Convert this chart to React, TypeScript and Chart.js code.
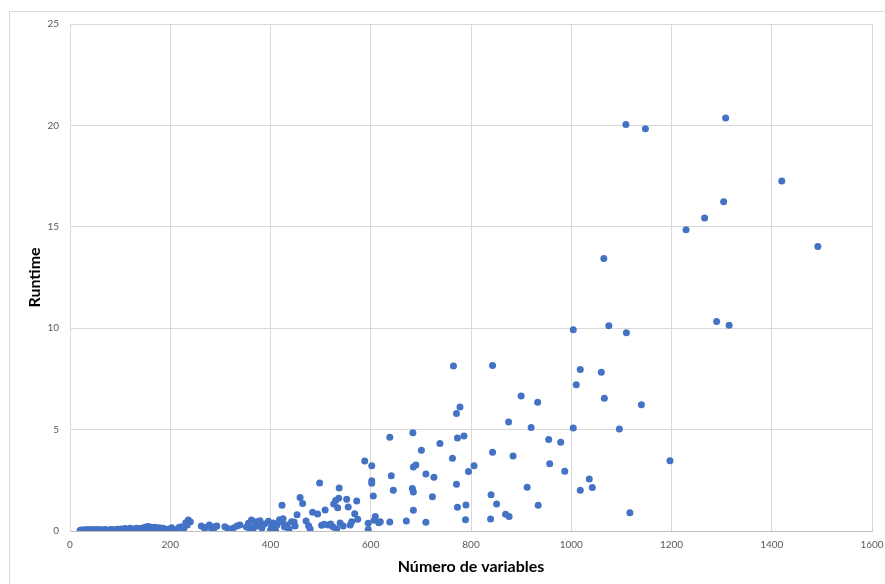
import { useEffect, useRef } from "react";
import { Chart, registerables } from "chart.js";

Chart.register(...registerables);

// [número de variables, runtime]
const runsUpTo200: [number, number][] = [
  [20, 0.03], [22, 0.05], [25, 0.02], [28, 0.06], [30, 0.04], [33, 0.03], [35, 0.07], [38, 0.05],
  [40, 0.02], [42, 0.06], [45, 0.04], [48, 0.08], [50, 0.03], [53, 0.05], [55, 0.07], [58, 0.02],
  [60, 0.05], [63, 0.06], [65, 0.03], [68, 0.04], [70, 0.07], [73, 0.05], [76, 0.03], [80, 0.06],
  [83, 0.08], [86, 0.04], [90, 0.06], [93, 0.05], [96, 0.09], [100, 0.07], [103, 0.1], [106, 0.05],
  [110, 0.12], [112, 0.08], [115, 0.06], [118, 0.1], [120, 0.14], [123, 0.09], [126, 0.07], [130, 0.11],
  [133, 0.13], [136, 0.08], [140, 0.12], [143, 0.1], [146, 0.15], [150, 0.18], [152, 0.12], [155, 0.22],
  [157, 0.09], [160, 0.2], [162, 0.14], [165, 0.17], [168, 0.1], [170, 0.19], [173, 0.13], [176, 0.08],
  [178, 0.16], [180, 0.11], [183, 0.05], [186, 0.14], [190, 0.09], [198, 0.1],
];

const runs200to600: [number, number][] = [
  [203, 0.16], [207, 0.05], [213, 0.08], [218, 0.18], [223, 0.21], [227, 0.12], [231, 0.41], [234, 0.3],
  [236, 0.54], [240, 0.45], [262, 0.25], [268, 0.15], [273, 0.18], [278, 0.3], [283, 0.12], [286, 0.08],
  [290, 0.22], [293, 0.25], [309, 0.21], [315, 0.12], [319, 0.02], [326, 0.15], [333, 0.25], [339, 0.3],
  [352, 0.2], [356, 0.38], [359, 0.1], [362, 0.54], [366, 0.13], [370, 0.3], [372, 0.46], [376, 0.25],
  [379, 0.5], [383, 0.15], [388, 0.35], [396, 0.48], [400, 0.05], [402, 0.25], [404, 0.12], [406, 0.4],
  [410, 0.03], [413, 0.3], [418, 0.55], [419, 0.51], [422, 0.45], [423, 1.27], [425, 0.6], [428, 0.2],
  [432, 0.3], [437, 0.1], [442, 0.45], [447, 0.44], [449, 0.25], [453, 0.8], [459, 1.65], [464, 1.35],
  [471, 0.49], [476, 0.26], [479, 0.1], [484, 0.92], [494, 0.84], [498, 2.37], [502, 0.28], [507, 0.33],
  [509, 1.04], [515, 0.3], [520, 0.35], [525, 0.2], [526, 1.33], [530, 1.5], [532, 0.1], [534, 1.15],
  [536, 1.61], [537, 2.12], [539, 0.4], [545, 0.25], [552, 1.56], [555, 1.18], [559, 0.3], [562, 0.45],
  [568, 0.85], [572, 1.48], [574, 0.58], [588, 3.45], [595, 0.38], [595, 0.08],
];

const runs600to1000: [number, number][] = [
  [602, 3.22], [602, 2.48], [602, 2.35], [605, 1.73], [607, 0.53], [609, 0.71], [616, 0.41], [619, 0.45],
  [638, 4.62], [641, 2.73], [645, 2.01], [638, 0.44], [671, 0.49], [684, 4.84], [685, 3.16], [690, 3.26],
  [683, 2.09], [685, 1.92], [685, 1.02], [701, 3.98], [710, 2.81], [726, 2.65], [710, 0.43], [723, 1.69],
  [738, 4.31], [763, 3.59], [765, 8.13], [771, 5.79], [778, 6.11], [773, 4.59], [786, 4.69], [771, 2.3],
  [773, 1.17], [790, 1.28], [789, 0.56], [795, 2.93], [806, 3.22], [839, 0.59], [840, 1.79], [843, 3.88],
  [843, 8.16], [851, 1.33], [869, 0.82], [876, 0.72], [875, 5.37], [884, 3.7], [900, 6.66], [912, 2.16],
  [920, 5.1], [933, 6.35], [934, 1.27], [955, 4.51], [957, 3.32], [979, 4.38], [987, 2.95],
];

const runsAbove1000: [number, number][] = [
  [1004, 5.08], [1004, 9.92], [1010, 7.21], [1018, 7.96], [1018, 2.01], [1036, 2.56], [1042, 2.14],
  [1060, 7.83], [1065, 13.44], [1066, 6.55], [1075, 10.12], [1096, 5.03], [1109, 20.04], [1110, 9.77],
  [1117, 0.9], [1140, 6.23], [1148, 19.83], [1197, 3.47], [1229, 14.86], [1266, 15.43], [1290, 10.33],
  [1304, 16.24], [1308, 20.37], [1315, 10.15], [1420, 17.26], [1492, 14.03],
];

const xRange = { min: 0, max: 1600, step: 200 };
const yRange = { min: 0, max: 25, step: 5 };
const xTitle = "Número de variables";
const yTitle = "Runtime";

const MARKER = "#4472C4";
const GRID = "#d9d9d9";
const TICK_TEXT = "#595959";
const FONT = "Lato, 'Open Sans', sans-serif";

export default function App() {
  const canvasRef = useRef<HTMLCanvasElement>(null);

  useEffect(() => {
    const points = [...runsUpTo200, ...runs200to600, ...runs600to1000, ...runsAbove1000].map(
      ([x, y]) => ({ x, y })
    );
    const chart = new Chart(canvasRef.current!, {
      type: "scatter",
      data: {
        datasets: [
          {
            data: points,
            backgroundColor: MARKER,
            borderColor: MARKER,
            borderWidth: 0,
            pointRadius: 3.5,
            pointHoverRadius: 3.5,
          },
        ],
      },
      options: {
        responsive: false,
        animation: false,
        devicePixelRatio: 1,
        layout: { padding: { left: 0, top: 24, right: 13, bottom: 0 } },
        plugins: { legend: { display: false }, tooltip: { enabled: false } },
        scales: {
          x: {
            type: "linear",
            min: xRange.min,
            max: xRange.max,
            ticks: {
              stepSize: xRange.step,
              color: TICK_TEXT,
              font: { family: FONT, size: 10 },
              padding: 8,
              maxRotation: 0,
              callback: (v: any) => String(v),
            },
            grid: { color: GRID, drawTicks: false },
            border: { color: "#bfbfbf" },
            title: {
              display: true,
              text: xTitle,
              color: "#000",
              font: { family: FONT, size: 16, weight: "bold" },
              padding: { top: 0, bottom: 8 },
            },
            afterFit: (scale: any) => {
              scale.height = 53;
              scale.paddingLeft = 0;
              scale.paddingRight = 0;
            },
          },
          y: {
            type: "linear",
            min: yRange.min,
            max: yRange.max,
            ticks: {
              stepSize: yRange.step,
              color: TICK_TEXT,
              font: { family: FONT, size: 10 },
              padding: 11,
              callback: (v: any) => String(v),
            },
            grid: { color: GRID, drawTicks: false },
            border: { color: GRID },
            title: {
              display: true,
              text: yTitle,
              color: "#000",
              font: { family: FONT, size: 16, weight: "bold" },
              padding: { top: 25, bottom: 0 },
            },
            afterFit: (scale: any) => {
              scale.width = 70;
            },
          },
        },
      },
    });
    return () => chart.destroy();
  }, []);

  return (
    <div style={{ position: "fixed", left: 0, top: 0, width: 885, height: 584, background: "#fff", overflow: "hidden" }}>
      <div
        style={{
          position: "absolute",
          left: 9,
          top: 11,
          width: 890,
          height: 600,
          border: `1px solid ${GRID}`,
          boxSizing: "border-box",
        }}
      />
      <canvas ref={canvasRef} width={885} height={584} style={{ position: "absolute", left: 0, top: 0 }} />
    </div>
  );
}
